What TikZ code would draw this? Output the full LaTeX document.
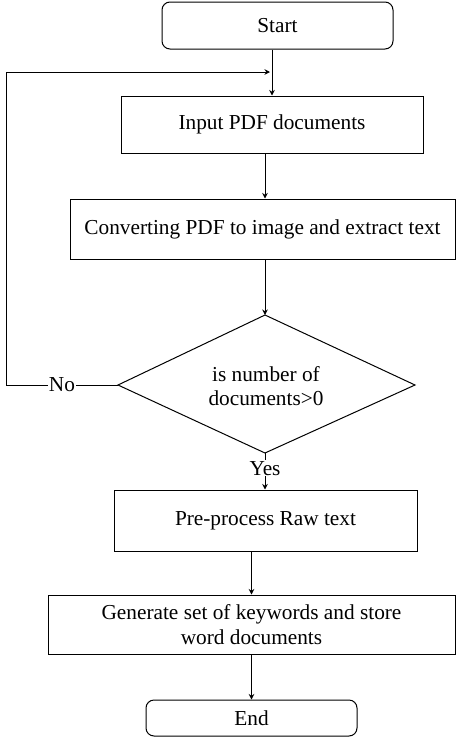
\documentclass[tikz,border=0pt]{standalone}
\usepackage{fontspec}
\setmainfont{Liberation Serif}
\usetikzlibrary{arrows.meta}
\begin{document}
\begin{tikzpicture}[x=1pt,y=-1pt,
  every node/.style={font=\fontsize{21.3}{24.5}\selectfont, inner sep=0pt},
  proc/.style={draw, line width=1pt, rectangle, align=center},
  term/.style={draw, line width=1pt, rectangle, rounded corners=8pt, align=center},
  arr/.style={line width=1pt, -{Stealth[length=5.5pt,width=5.5pt]}},
  ln/.style={line width=1pt},
  lbl/.style={fill=white, inner sep=1pt}]
\useasboundingbox (0,0) rectangle (456,737);
\node[term, minimum width=231pt, minimum height=47pt] (start) at (277.5,25.5) {Start};
\node[proc, minimum width=302pt, minimum height=57pt] (input) at (272,124.5) {Input PDF documents};
\node[proc, minimum width=385pt, minimum height=60pt] (conv) at (262.5,229) {Converting PDF to image and extract text};
\node[align=center] (dec) at (266,386) {is number of\\documents>0};
\coordinate (dtop) at (265,315);
\coordinate (dbot) at (265,453);
\coordinate (dleft) at (118,385);
\coordinate (dright) at (415,385);
\draw[ln, line join=miter] (dtop) -- (dright) -- (dbot) -- (dleft) -- cycle;
\node[proc, minimum width=303pt, minimum height=61pt] (pre) at (265.5,520.5) {Pre-process Raw text};
\node[proc, minimum width=407pt, minimum height=59pt] (gen) at (251.5,624.5) {Generate set of keywords and store\\word documents};
\node[term, minimum width=211pt, minimum height=36pt] (end) at (251.5,718) {End};
\coordinate (lp) at (6,72);
\coordinate (lt) at (270,72);
\draw[arr] (start.south -| input.center) -- (input.north);
\draw[arr] (input.south -| dtop) -- (conv.north -| dtop);
\draw[arr] (conv.south -| dtop) -- (dtop);
\draw[arr] (dbot) -- node[lbl, pos=0.42] {Yes} (pre.north -| dbot);
\draw[arr] (pre.south -| gen.center) -- (gen.north);
\draw[arr] (gen.south) -- (end.north);
\draw[ln] (dleft) -- node[lbl, pos=0.5] {No} (dleft -| lp) -- (lp);
\draw[arr] (lp) -- (lt);
\end{tikzpicture}
\end{document}
